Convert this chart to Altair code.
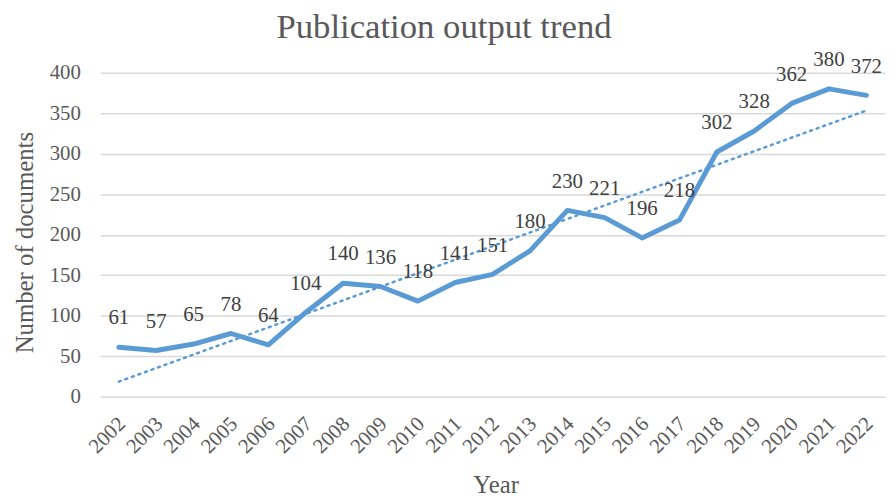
import altair as alt
import pandas as pd

years = list(range(2002, 2023))
counts = [61, 57, 65, 78, 64, 104, 140, 136, 118, 141, 151, 180, 230, 221, 196, 218, 302, 328, 362, 380, 372]
y_ticks = [0, 50, 100, 150, 200, 250, 300, 350, 400]

df = pd.DataFrame({"Year": years, "Count": counts})

FONT = "Liberation Serif"
BLUE = "#5B9BD5"
GRAY = "#595959"

x_enc = alt.X(
    "Year:O",
    scale=alt.Scale(type="point", padding=0.5),
    axis=alt.Axis(
        labelAngle=-45, labelAlign="right", labelBaseline="middle",
        labelPadding=24, labelOffset=3, ticks=False, domain=False, grid=False, title="Year",
        titleX=399, titleY=89, titleBaseline="middle", titleAnchor="start", titleAlign="center",
        labelFont=FONT, labelFontSize=21, labelColor=GRAY,
        titleFont=FONT, titleFontSize=25, titleFontWeight="normal", titleColor=GRAY,
        labelOverlap=False,
    ),
)
y_enc = alt.Y(
    "Count:Q",
    scale=alt.Scale(domain=[0, 400], nice=False),
    axis=alt.Axis(
        values=y_ticks, ticks=False, domain=False, grid=True, gridColor="#d9d9d9", gridWidth=1.5,
        labelPadding=20, title="Number of documents",
        titleX=-76, titleY=171, titleBaseline="middle", titleAngle=-90, titleAlign="center",
        labelFont=FONT, labelFontSize=21, labelColor=GRAY,
        titleFont=FONT, titleFontSize=25, titleFontWeight="normal", titleColor=GRAY,
    ),
)

base = alt.Chart(df)

line = base.mark_line(color=BLUE, strokeWidth=5, strokeJoin="round", strokeCap="round").encode(x=x_enc, y=y_enc)

trend = base.transform_regression("Year", "Count").mark_line(
    color=BLUE, strokeWidth=2.5, strokeDash=[2, 5], strokeCap="round"
).encode(x="Year:O", y="Count:Q")

labels = base.mark_text(
    font=FONT, fontSize=21, color="#404040", baseline="middle", align="center", dy=-29
).encode(x="Year:O", y="Count:Q", text="Count:Q")

chart = alt.layer(line, trend, labels).properties(
    width=792,
    height=327,
    autosize=alt.AutoSizeParams(type="none"),
    padding={"left": 93, "top": 63, "right": 3, "bottom": 100},
    title=alt.TitleParams(
        "Publication output trend", font=FONT, fontSize=35, fontWeight="normal", color=GRAY,
        anchor="middle", dx=-49, offset=4,
    ),
).configure_view(stroke=None)

chart.save("out.html", embed_options={"renderer": "svg", "actions": False})
